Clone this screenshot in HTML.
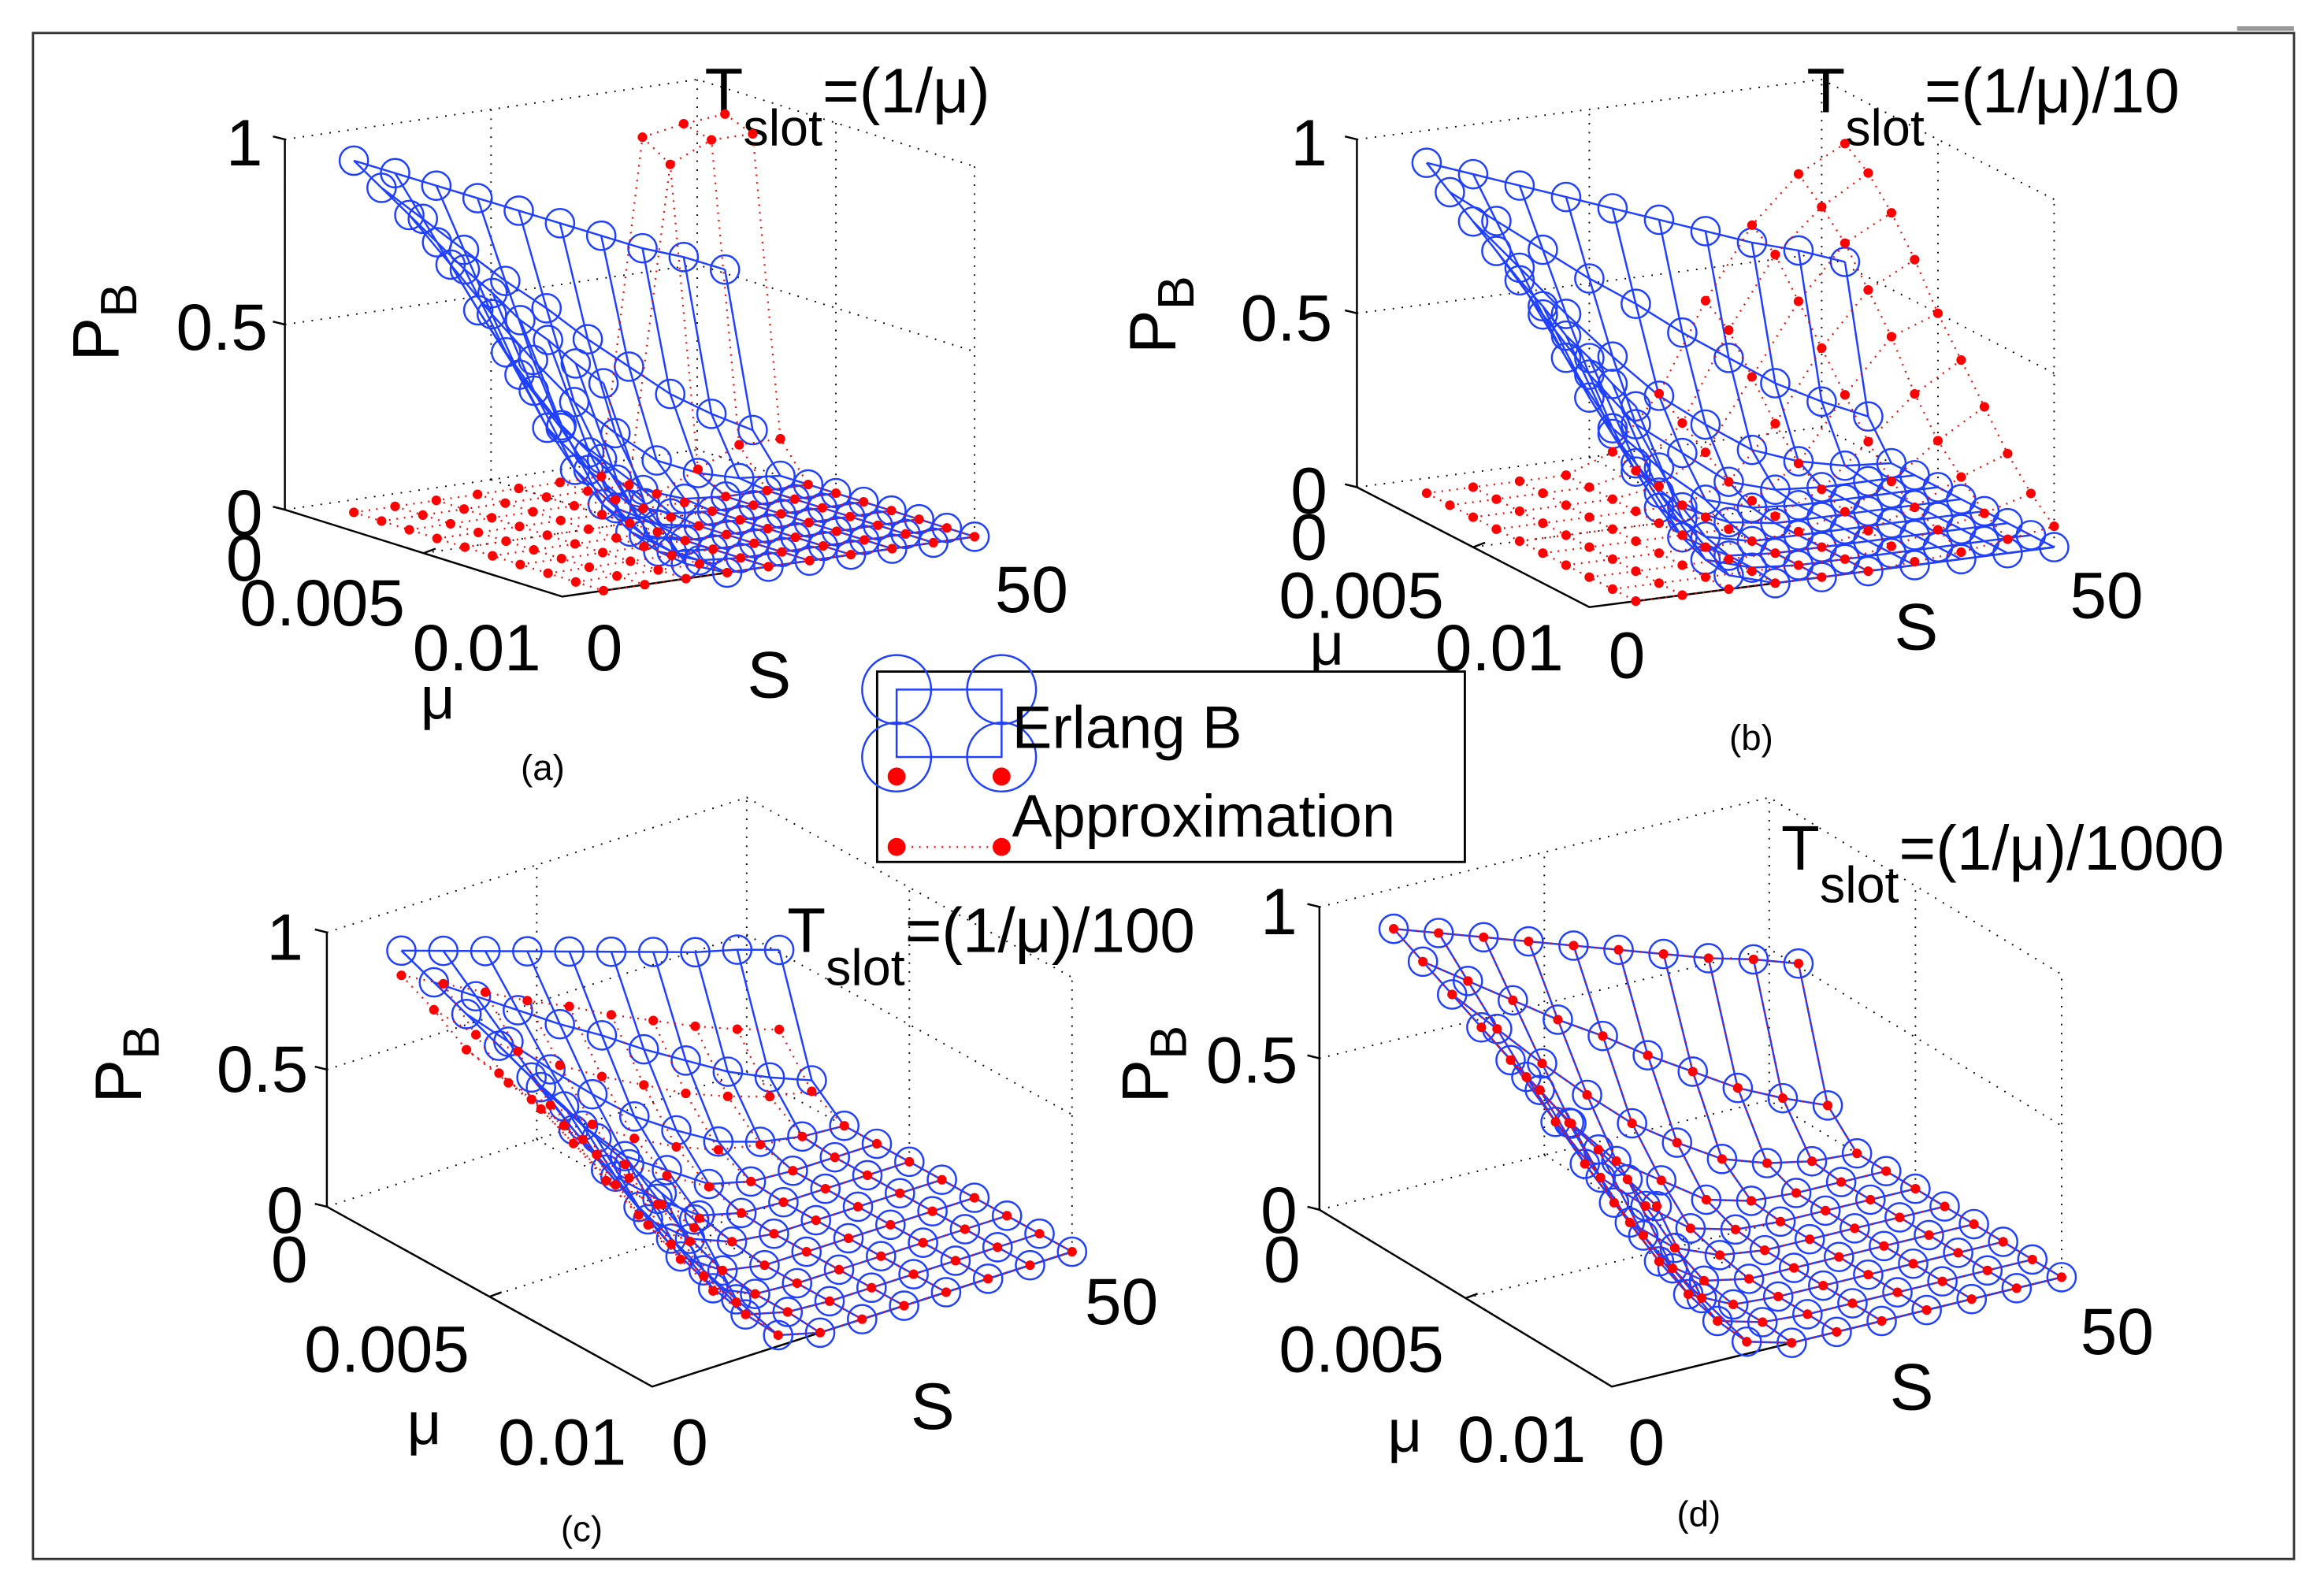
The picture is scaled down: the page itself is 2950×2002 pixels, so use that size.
<!DOCTYPE html>
<html><head><meta charset="utf-8"><style>
html,body{margin:0;padding:0;background:#fff;}
svg{display:block;}
text{font-family:"Liberation Sans",Arial,sans-serif;fill:#000;}
</style></head>
<body>
<svg id="fig" width="2950" height="2002" viewBox="0 0 1550 1052" preserveAspectRatio="none" xmlns="http://www.w3.org/2000/svg">
<rect x="0" y="0" width="1550" height="1052" fill="#fff"/>
<rect x="22" y="22" width="1508" height="1018" fill="none" stroke="#333" stroke-width="1.5"/>
<line x1="1492" y1="19" x2="1530" y2="19" stroke="#999" stroke-width="3"/>
<g id="panels"></g>
<g>
  <rect x="585" y="448" width="392" height="127" fill="#fff" stroke="#000" stroke-width="1.5"/>
  <g>
    <rect x="598" y="460" width="70" height="45" fill="none" stroke="#2040ff" stroke-width="1.3"/>
    <circle cx="598" cy="460" r="23" fill="none" stroke="#2040ff" stroke-width="1.3"/>
    <circle cx="668" cy="460" r="23" fill="none" stroke="#2040ff" stroke-width="1.3"/>
    <circle cx="598" cy="505" r="23" fill="none" stroke="#2040ff" stroke-width="1.3"/>
    <circle cx="668" cy="505" r="23" fill="none" stroke="#2040ff" stroke-width="1.3"/>
    <text x="675" y="499" font-size="40">Erlang B</text>
  </g>
  <g>
    <line x1="598" y1="565" x2="668" y2="565" stroke="#f00" stroke-width="1.2" stroke-dasharray="1,4"/>
    <circle cx="598" cy="518" r="6" fill="#f00"/>
    <circle cx="668" cy="518" r="6" fill="#f00"/>
    <circle cx="598" cy="565" r="6" fill="#f00"/>
    <circle cx="668" cy="565" r="6" fill="#f00"/>
    <text x="675" y="558" font-size="40">Approximation</text>
  </g>
</g>
</svg>
<script>
// ---- data ----
const sValues = [5,10,15,20,25,30,35,40,45,50];
const muValues = [0.001,0.002,0.003,0.004,0.005,0.006,0.007,0.008,0.009,0.01];
const pbTicks = [0,0.5,1];
const pbTickLabels = ["0","0.5","1"];
const muTickLabels = ["0","0.005","0.01"];
const sTickLabels = ["0","50"];
// rows: mu index, cols: S index
const erlangB = [
 [0.95,0.90,0.85,0.80,0.75,0.70,0.65,0.60,0.56,0.51],
 [0.90,0.80,0.70,0.60,0.51,0.41,0.32,0.23,0.16,0.10],
 [0.85,0.70,0.55,0.41,0.28,0.18,0.09,0.04,0.01,0.00],
 [0.80,0.60,0.41,0.25,0.15,0.05,0.01,0.00,0.00,0.00],
 [0.75,0.51,0.29,0.16,0.05,0.01,0.00,0.00,0.00,0.00],
 [0.71,0.43,0.20,0.08,0.02,0.00,0.00,0.00,0.00,0.00],
 [0.66,0.36,0.13,0.03,0.00,0.00,0.00,0.00,0.00,0.00],
 [0.63,0.31,0.08,0.01,0.00,0.00,0.00,0.00,0.00,0.00],
 [0.59,0.26,0.05,0.01,0.00,0.00,0.00,0.00,0.00,0.00],
 [0.56,0.22,0.04,0.00,0.00,0.00,0.00,0.00,0.00,0.00]
];
const approxA = [
 [0,0,0,0,0,0,0,0.90,0.92,0.93],
 [0,0,0,0,0,0,0,0.85,0.90,0.90],
 [0,0,0,0,0,0,0,0.05,0.10,0.10],
 [0,0,0,0,0,0,0,0,0,0],
 [0,0,0,0,0,0,0,0,0,0],
 [0,0,0,0,0,0,0,0,0,0],
 [0,0,0,0,0,0,0,0,0,0],
 [0,0,0,0,0,0,0,0,0,0],
 [0,0,0,0,0,0,0,0,0,0],
 [0,0,0,0,0,0,0,0,0,0]
];
const approxB = [
 [0,0,0,0,0.05,0.20,0.45,0.65,0.78,0.85],
 [0,0,0,0,0.03,0.15,0.40,0.60,0.72,0.80],
 [0,0,0,0,0.02,0.10,0.30,0.50,0.65,0.72],
 [0,0,0,0,0,0.05,0.20,0.40,0.55,0.62],
 [0,0,0,0,0,0.03,0.12,0.30,0.45,0.50],
 [0,0,0,0,0,0.02,0.08,0.20,0.32,0.40],
 [0,0,0,0,0,0.01,0.05,0.12,0.22,0.30],
 [0,0,0,0,0,0,0.03,0.08,0.15,0.20],
 [0,0,0,0,0,0,0.02,0.05,0.08,0.12],
 [0,0,0,0,0,0,0.01,0.02,0.04,0.06]
];
const approxC = [
 [0.86,0.78,0.70,0.62,0.55,0.47,0.40,0.33,0.27,0.22],
 [0.80,0.66,0.55,0.45,0.36,0.28,0.20,0.14,0.09,0.06],
 [0.72,0.55,0.42,0.30,0.20,0.12,0.06,0.03,0.01,0.00],
 [0.70,0.52,0.36,0.22,0.13,0.04,0.01,0.00,0.00,0.00],
 [0.67,0.46,0.26,0.14,0.04,0.01,0.00,0.00,0.00,0.00],
 [0.64,0.39,0.18,0.07,0.02,0.00,0.00,0.00,0.00,0.00],
 [0.60,0.33,0.12,0.03,0.00,0.00,0.00,0.00,0.00,0.00],
 [0.58,0.29,0.07,0.01,0.00,0.00,0.00,0.00,0.00,0.00],
 [0.55,0.24,0.05,0.01,0.00,0.00,0.00,0.00,0.00,0.00],
 [0.53,0.21,0.04,0.00,0.00,0.00,0.00,0.00,0.00,0.00]
];
const approxD = [
 [0.95,0.90,0.85,0.80,0.75,0.70,0.65,0.60,0.56,0.51],
 [0.90,0.80,0.70,0.60,0.51,0.41,0.32,0.23,0.16,0.10],
 [0.85,0.70,0.55,0.41,0.28,0.18,0.09,0.04,0.01,0.00],
 [0.80,0.60,0.41,0.25,0.15,0.05,0.01,0.00,0.00,0.00],
 [0.75,0.51,0.29,0.16,0.05,0.01,0.00,0.00,0.00,0.00],
 [0.71,0.43,0.20,0.08,0.02,0.00,0.00,0.00,0.00,0.00],
 [0.66,0.36,0.13,0.03,0.00,0.00,0.00,0.00,0.00,0.00],
 [0.63,0.31,0.08,0.01,0.00,0.00,0.00,0.00,0.00,0.00],
 [0.59,0.26,0.05,0.01,0.00,0.00,0.00,0.00,0.00,0.00],
 [0.56,0.22,0.04,0.00,0.00,0.00,0.00,0.00,0.00,0.00]
];

// ---- layout (not data) ----
const panelLayouts = [
 {id:"a", approx:approxA, o:[190,340], s:[275,-40], m:[185,58], z:247,
  pbL:[[163,342],[148,218],[163,95]], muL:[[163,372],[215,402],[318,432]], muT:[292,466],
  sL:[[403,432],[688,393]], sT:[513,450], pbT:[65,215], title:[470,75], sub:"(1/μ)", cap:[362,512]},
 {id:"b", approx:approxB, o:[905,325], s:[310,-40], m:[155,80], z:232,
  pbL:[[873,327],[858,212],[873,95]], muL:[[873,358],[908,397],[1000,432]], muT:[885,430],
  sL:[[1085,437],[1405,397]], sT:[1278,418], pbT:[770,210], title:[1205,75], sub:"(1/μ)/10", cap:[1168,492]},
 {id:"c", approx:approxC, o:[218,805], s:[280,-90], m:[217,120], z:183,
  pbL:[[190,807],[175,713],[190,625]], muL:[[193,840],[258,900],[375,962]], muT:[283,950],
  sL:[[460,962],[748,868]], sT:[622,938], pbT:[80,710], title:[525,635], sub:"(1/μ)/100", cap:[388,1020]},
 {id:"d", approx:approxD, o:[880,807], s:[300,-73], m:[195,118], z:202,
  pbL:[[853,807],[835,707],[853,608]], muL:[[855,840],[908,900],[1015,960]], muT:[937,955],
  sL:[[1098,962],[1412,888]], sT:[1275,925], pbT:[765,710], title:[1188,580], sub:"(1/μ)/1000", cap:[1133,1010]}
];

const NS = "http://www.w3.org/2000/svg";
const root = document.getElementById("panels");
function mk(tag, attrs, parent){
  const e = document.createElementNS(NS, tag);
  for (const k in attrs) e.setAttribute(k, attrs[k]);
  (parent||root).appendChild(e);
  return e;
}
function projector(L){
  return function(S, mu, pb){
    return [L.o[0] + (S/50)*L.s[0] + (mu/0.01)*L.m[0],
            L.o[1] + (S/50)*L.s[1] + (mu/0.01)*L.m[1] - pb*L.z];
  };
}
function txt(g, x, y, str, size, anchor){
  const t = mk("text", {x:x, y:y, "font-size":size, "text-anchor":anchor||"middle", "dominant-baseline":"central"}, g);
  t.textContent = str;
  return t;
}

panelLayouts.forEach(L => {
  const P = projector(L);
  const g = mk("g", {});
  
  

  // grid / box (dotted)
  const grid = mk("g", {stroke:"#000", "stroke-width":1, "stroke-dasharray":"1,5", fill:"none"}, g);
  
  
  pbTicks.forEach(pb => {
    const a = P(0,0,pb), b = P(50,0,pb), c = P(50,0.01,pb);
    mk("polyline", {points:`${a} ${b} ${c}`}, grid);
  });
  [[0,0],[50,0],[50,0.01],[25,0],[50,0.005]].forEach(([S,mu]) => {
    const a = P(S,mu,0), b = P(S,mu,1);
    mk("line", {x1:a[0], y1:a[1], x2:b[0], y2:b[1]}, grid);
  });
  [0.005].forEach(mu => { const a=P(0,mu,0), b=P(50,mu,0); mk("line",{x1:a[0],y1:a[1],x2:b[0],y2:b[1]},grid); });
  [25].forEach(S => { const a=P(S,0,0), b=P(S,0.01,0); mk("line",{x1:a[0],y1:a[1],x2:b[0],y2:b[1]},grid); });

  // axes
  const ax = mk("g", {stroke:"#000", "stroke-width":1.3, fill:"none"}, g);
  
  
  const o0 = P(0,0,0), o1 = P(0,0,1), f0 = P(0,0.01,0), r0 = P(50,0.01,0);
  mk("polyline", {points:`${o1} ${o0} ${f0} ${r0}`}, ax);
  pbTicks.forEach(pb => { const p = P(0,0,pb); mk("line",{x1:p[0]-8,y1:p[1]-2,x2:p[0],y2:p[1]},ax); });
  const mt = P(0,0.005,0); mk("line",{x1:mt[0],y1:mt[1],x2:mt[0]+8,y2:mt[1]-3},ax);

  // tick labels
  const tl = mk("g", {}, g);
  
  
  pbTickLabels.forEach((s,i) => txt(tl, L.pbL[i][0], L.pbL[i][1], s, 44));
  muTickLabels.forEach((s,i) => txt(tl, L.muL[i][0], L.muL[i][1], s, 44));
  sTickLabels.forEach((s,i) => txt(tl, L.sL[i][0], L.sL[i][1], s, 44));
  const mut = txt(g, L.muT[0], L.muT[1], "μ", 40);
  
  
  const st = txt(g, L.sT[0], L.sT[1], "S", 44);
  
  
  const pbt = mk("text", {x:0, y:0, "font-size":44, "text-anchor":"middle", transform:`translate(${L.pbT[0]+14},${L.pbT[1]}) rotate(-90)`}, g);
  
  
  pbt.innerHTML = 'P<tspan font-size="34" dy="12">B</tspan>';
  const tt = mk("text", {x:L.title[0], y:L.title[1], "font-size":42}, g);
  
  
  tt.innerHTML = 'T<tspan font-size="34" dy="22">slot</tspan><tspan dy="-22">=' + L.sub + '</tspan>';
  const cap = txt(g, L.cap[0], L.cap[1], "(" + L.id + ")", 24);
  
  

  // Erlang B surface
  const blue = mk("g", {stroke:"#2040ff", "stroke-width":1.3, fill:"none"}, g);
  
  
  muValues.forEach((mu,i) => {
    const pts = sValues.map((S,j) => P(S,mu,erlangB[i][j]).join(",")).join(" ");
    mk("polyline", {points:pts}, blue);
  });
  sValues.forEach((S,j) => {
    const pts = muValues.map((mu,i) => P(S,mu,erlangB[i][j]).join(",")).join(" ");
    mk("polyline", {points:pts}, blue);
  });
  muValues.forEach((mu,i) => sValues.forEach((S,j) => {
    const p = P(S,mu,erlangB[i][j]);
    const c = mk("circle", {cx:p[0], cy:p[1], r:9.5}, blue);
    
    
  }));

  // Approximation
  const red = mk("g", {}, g);
  
  
  const A = L.approx;
  muValues.forEach((mu,i) => {
    const pts = sValues.map((S,j) => P(S,mu,A[i][j]).join(",")).join(" ");
    mk("polyline", {points:pts, stroke:"#f00", "stroke-width":1.2, "stroke-dasharray":"1,4", fill:"none"}, red);
  });
  sValues.forEach((S,j) => {
    const pts = muValues.map((mu,i) => P(S,mu,A[i][j]).join(",")).join(" ");
    mk("polyline", {points:pts, stroke:"#f00", "stroke-width":1.2, "stroke-dasharray":"1,4", fill:"none"}, red);
  });
  muValues.forEach((mu,i) => sValues.forEach((S,j) => {
    const p = P(S,mu,A[i][j]);
    const c = mk("circle", {cx:p[0], cy:p[1], r:3.2, fill:"#f00"}, red);
    
    
  }));
});
</script>
</body></html>
